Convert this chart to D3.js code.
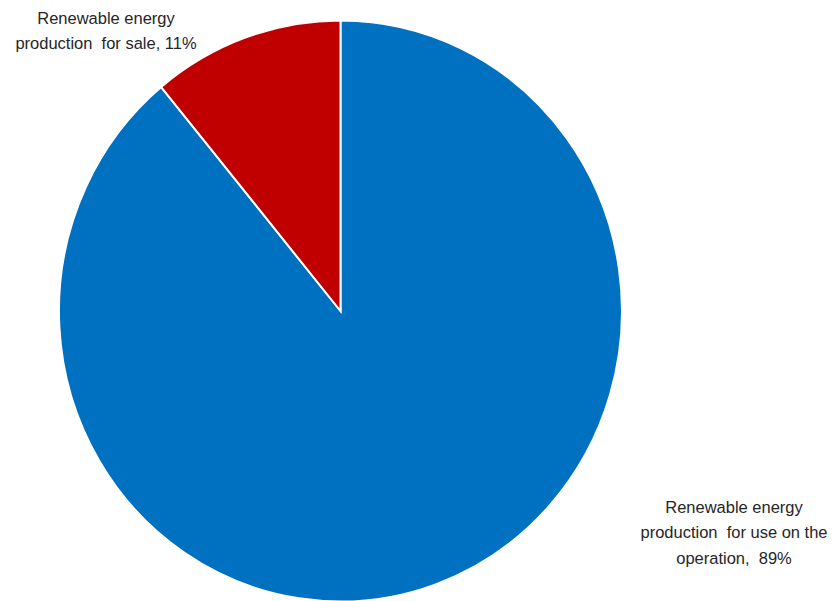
<!DOCTYPE html>
<html>
<head>
<meta charset="utf-8">
<script src="https://cdn.jsdelivr.net/npm/d3@7"></script>
<style>
  html, body { margin: 0; padding: 0; background: #fff; }
  svg { display: block; }
  text { font-family: "Liberation Sans", Arial, sans-serif; fill: #262626; white-space: pre; }
</style>
</head>
<body>
<svg id="chart" width="835" height="601"></svg>
<script>
// Data
const categories = ["Renewable energy production for use on the operation", "Renewable energy production for sale"];
const values = [89, 11];
const colors = ["#0070C0", "#C00000"];
const labelLines = [
  ["Renewable energy", "production  for use on the", "operation,  89%"],
  ["Renewable energy", "production  for sale, 11%"]
];

const W = 835, H = 601;
const cx = 340.5, cy = 311, rx = 281.5, ry = 290.5;

const svg = d3.select("#chart");

const pie = d3.pie().sort(null).value(d => d).startAngle(0).endAngle(2 * Math.PI);
const arcs = pie(values);
const arc = d3.arc().innerRadius(0).outerRadius(1);

const g = svg.append("g").attr("transform", `translate(${cx},${cy}) scale(${rx},${ry})`);
g.selectAll("path")
  .data(arcs)
  .enter().append("path")
  .attr("d", arc)
  .attr("fill", (d, i) => colors[i])
  .attr("stroke", "#fff")
  .attr("stroke-width", 2)
  .attr("stroke-linejoin", "miter")
  .attr("vector-effect", "non-scaling-stroke");

// Labels
const labelPos = [
  { x: 734, y: 513 },
  { x: 106, y: 24 }
];
const fs = 16.5, lh = 24.5;
labelLines.forEach((lines, i) => {
  const lg = svg.append("g")
    .attr("transform", `translate(${labelPos[i].x},${labelPos[i].y}) scale(1,1.04)`);
  lines.forEach((t, j) => {
    lg.append("text")
      .attr("x", 0)
      .attr("y", j * lh)
      .attr("text-anchor", "middle")
      .attr("font-size", fs)
      .text(t);
  });
});
</script>
</body>
</html>
